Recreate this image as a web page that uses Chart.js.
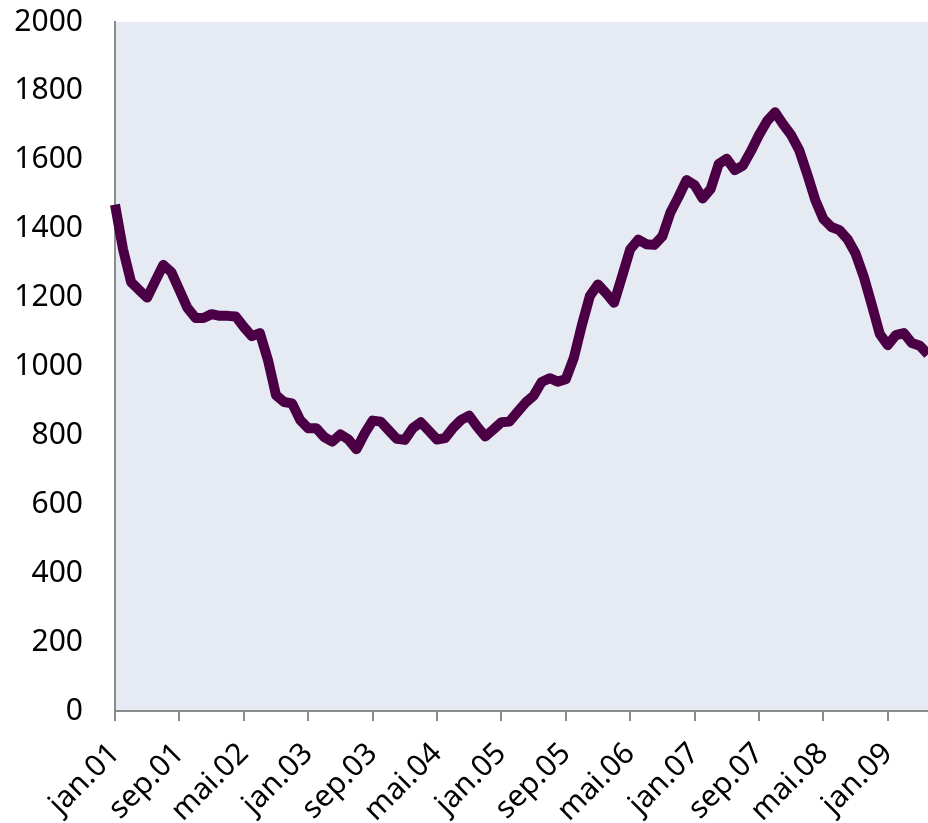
<!DOCTYPE html>
<html>
<head>
<meta charset="utf-8">
<script src="https://cdn.jsdelivr.net/npm/chart.js@4/dist/chart.umd.min.js"></script>
<style>
    html, body { margin: 0; padding: 0; background: #ffffff; }
    #wrap { width: 928px; height: 823px; }
</style>
</head>
<body>
<div id="wrap"><canvas id="chart" width="928" height="823"></canvas></div>
<script>
const monthNames = ['jan', 'feb', 'mar', 'apr', 'mai', 'jun', 'jul', 'aug', 'sep', 'okt', 'nov', 'des'];
const years = ['01', '02', '03', '04', '05', '06', '07', '08', '09'];
const monthCount = 102; // jan.01 .. jun.09
const labelEvery = 8;

const values = [
    1470, 1340, 1245, 1222, 1200, 1248, 1295, 1274, 1222, 1170, 1141, 1141,
    1152, 1147, 1147, 1145, 1115, 1088, 1097, 1019, 917, 897, 893, 845,
    821, 821, 795, 782, 803, 788, 760, 805, 843, 840, 815, 790,
    787, 821, 838, 813, 788, 792, 822, 845, 857, 825, 797, 817,
    838, 840, 868, 895, 915, 955, 966, 956, 963, 1025, 1120, 1205,
    1238, 1213, 1185, 1262, 1340, 1368, 1355, 1353, 1378, 1447, 1492, 1541,
    1527, 1488, 1515, 1588, 1603, 1570, 1583, 1625, 1672, 1712, 1738, 1703,
    1672, 1628, 1558, 1483, 1428, 1405, 1396, 1370, 1328, 1262, 1180, 1095,
    1062, 1091, 1097, 1068, 1060, 1035
];

const yTicks = [0, 200, 400, 600, 800, 1000, 1200, 1400, 1600, 1800, 2000];

const labels = [];
for (let i = 0; i < monthCount; i++) {
    labels.push(monthNames[i % 12] + '.' + years[Math.floor(i / 12)]);
}

const plotBackground = {
    id: 'plotBackground',
    beforeDraw(chart) {
        const { ctx, chartArea } = chart;
        ctx.save();
        ctx.fillStyle = '#e6ebf3';
        ctx.fillRect(chartArea.left, chartArea.top, chartArea.right - chartArea.left, chartArea.bottom - chartArea.top);
        ctx.restore();
    }
};

const font = { family: "'Noto Sans', 'Liberation Sans', sans-serif", size: 30 };

new Chart(document.getElementById('chart').getContext('2d'), {
    type: 'line',
    data: {
        labels: labels,
        datasets: [{
            data: values,
            borderColor: '#4b0046',
            borderWidth: 10,
            pointRadius: 0,
            tension: 0,
            borderJoinStyle: 'round',
            fill: false
        }]
    },
    options: {
        responsive: false,
        animation: false,
        events: [],
        layout: { padding: { top: 22, right: 0, left: 0, bottom: 0 } },
        plugins: {
            legend: { display: false },
            tooltip: { enabled: false }
        },
        scales: {
            x: {
                offset: false,
                border: { display: true, color: '#8c8c8c', width: 2 },
                grid: {
                    drawOnChartArea: false,
                    drawTicks: true,
                    tickLength: 10,
                    lineWidth: 2,
                    color: ctx => (ctx.index % labelEvery === 0 ? '#8c8c8c' : 'rgba(0,0,0,0)')
                },
                ticks: {
                    autoSkip: false,
                    maxRotation: 45,
                    minRotation: 45,
                    padding: 15,
                    color: '#000000',
                    font: font,
                    callback: function (value, index) {
                        return index % labelEvery === 0 ? labels[index] : '';
                    }
                },
                afterFit: scale => {
                    scale.height = 112;
                    scale.paddingLeft = 0;
                    scale.paddingRight = 0;
                }
            },
            y: {
                min: 0,
                max: 2000,
                border: { display: true, color: '#8c8c8c', width: 2 },
                grid: { display: false, drawTicks: false },
                afterBuildTicks: scale => { scale.ticks = yTicks.map(v => ({ value: v })); },
                ticks: {
                    padding: 32,
                    color: '#000000',
                    font: font,
                    callback: value => String(value)
                },
                afterFit: scale => {
                    scale.width = 115;
                    scale.paddingTop = 0;
                    scale.paddingBottom = 0;
                }
            }
        }
    },
    plugins: [plotBackground]
});
</script>
</body>
</html>
